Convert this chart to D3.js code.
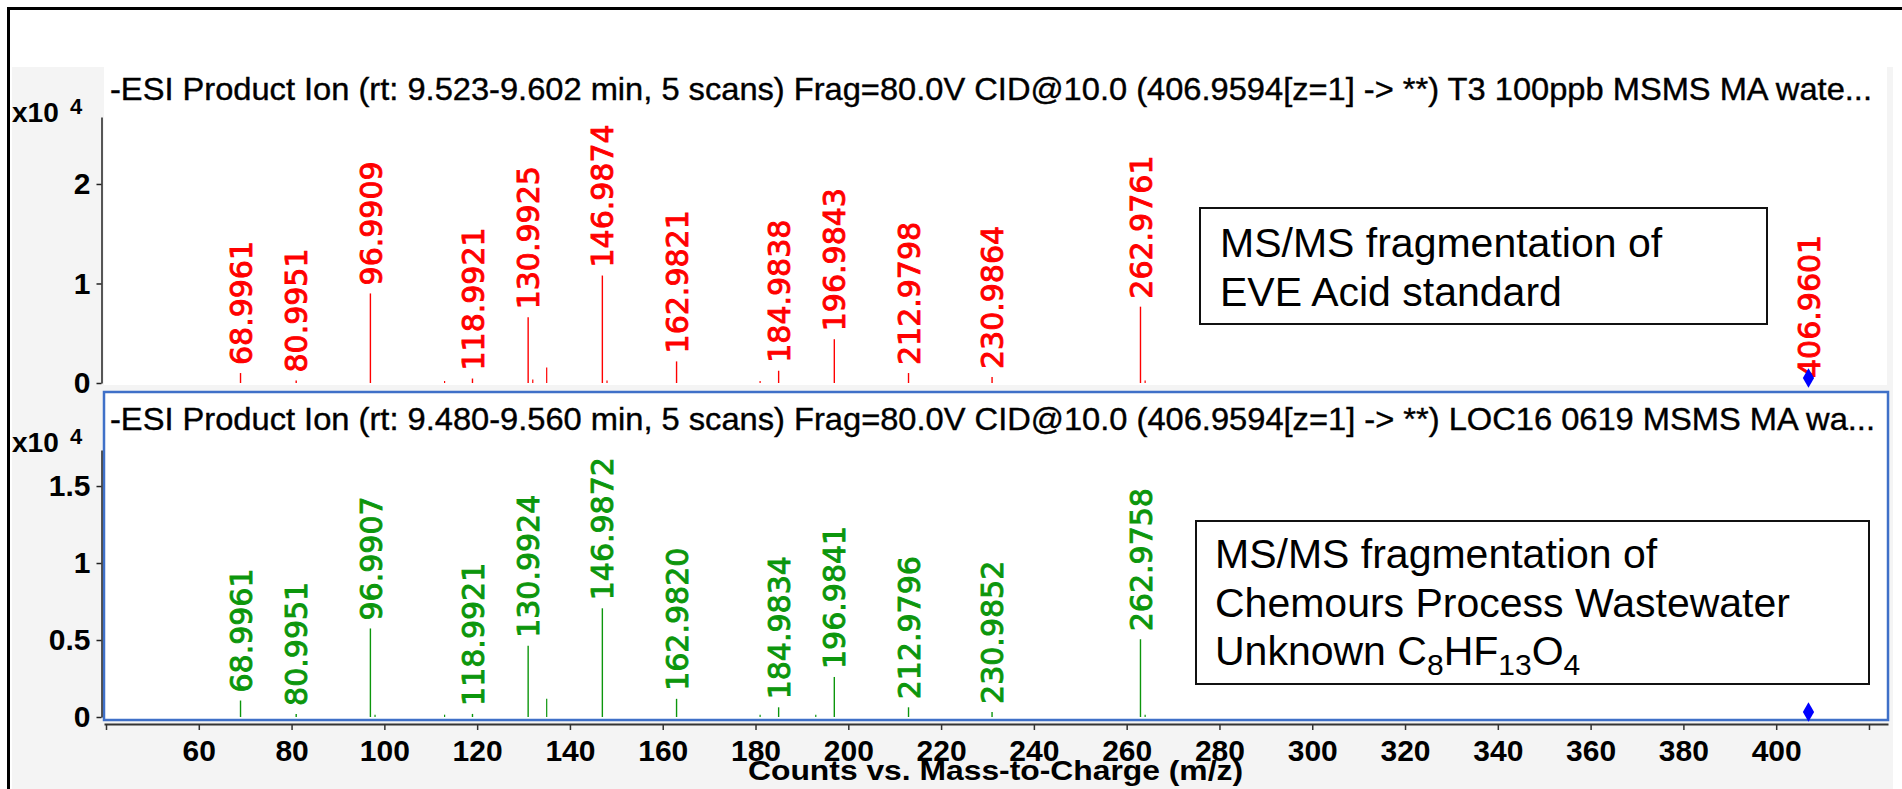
<!DOCTYPE html>
<html>
<head>
<meta charset="utf-8">
<script src="https://cdn.jsdelivr.net/npm/d3@7"></script>
<style>
	html, body { margin: 0; padding: 0; background: #fff; overflow: hidden; }
	svg { display: block; }
</style>
</head>
<body>
<script>
'use strict';

// x axis, m/z
var mzTicks = [40, 60, 80, 100, 120, 140, 160, 180, 200, 220, 240, 260, 280, 300, 320, 340, 360, 380, 400, 420];
var mzTickLabels = ['', '60', '80', '100', '120', '140', '160', '180', '200', '220', '240', '260', '280', '300', '320', '340', '360', '380', '400', ''];

// upper panel: EVE Acid standard (counts)
var stdTitle = '-ESI Product Ion (rt: 9.523-9.602 min, 5 scans) Frag=80.0V CID@10.0 (406.9594[z=1] -> **) T3 100ppb MSMS MA wate...';
var stdMz = [68.9961, 80.9951, 96.9909, 118.9921, 130.9925, 146.9874, 162.9821, 184.9838, 196.9843, 212.9798, 230.9864, 262.9761];
var stdCounts = [1000, 250, 9000, 450, 6600, 10800, 2170, 1230, 4400, 1000, 600, 7670];
var stdMinorMz = [112.98, 131.99, 134.99, 147.99, 180.99, 263.98];
var stdMinorCounts = [200, 350, 1550, 250, 200, 250];
var stdYTicks = [0, 10000, 20000];

// lower panel: process wastewater unknown (counts)
var unkTitle = '-ESI Product Ion (rt: 9.480-9.560 min, 5 scans) Frag=80.0V CID@10.0 (406.9594[z=1] -> **) LOC16 0619 MSMS MA wa...';
var unkMz = [68.9961, 80.9951, 96.9907, 118.9921, 130.9924, 146.9872, 162.9820, 184.9834, 196.9841, 212.9796, 230.9852, 262.9758];
var unkCounts = [1070, 200, 5750, 200, 4620, 7060, 1180, 630, 2600, 630, 330, 5050];
var unkMinorMz = [97.99, 112.98, 134.99, 180.99, 192.99, 263.98];
var unkMinorCounts = [150, 150, 1180, 150, 150, 150];
var unkYTicks = [0, 5000, 10000, 15000];

// precursor ion
var precursorMz = 406.9601;

var xLabel = 'Counts vs. Mass-to-Charge (m/z)';

var width = 1902, height = 789;
var labelFont = '"DejaVu Sans", Verdana, sans-serif';
var axisFont = '"Liberation Sans", Arial, sans-serif';
var fmt = d3.format('.4f');

var svg = d3.select('body').append('svg')
	.attr('width', width)
	.attr('height', height);

// frame and backgrounds
svg.append('rect')
	.attr('x', 8.5).attr('y', 8.5)
	.attr('width', 2000).attr('height', 2000)
	.attr('fill', '#fff')
	.attr('stroke', '#000')
	.attr('stroke-width', 3);
svg.append('rect')
	.attr('x', 12).attr('y', 67)
	.attr('width', 1881).attr('height', 800)
	.attr('fill', '#f4f4f4');
svg.append('rect')
	.attr('x', 104).attr('y', 67)
	.attr('width', 1783).attr('height', 318)
	.attr('fill', '#fff');
svg.append('rect')
	.attr('x', 104).attr('y', 392)
	.attr('width', 1784).attr('height', 328)
	.attr('fill', '#fff')
	.attr('stroke', '#3f70c8')
	.attr('stroke-width', 2.5);

var x = d3.scaleLinear().domain([39.57, 424.1]).range([104, 1888]);

function drawPanel(p) {
	var y = d3.scaleLinear().domain([0, p.yMax]).range([p.zero, p.top]);
	var g = svg.append('g');

	// y axis
	var yAxis = g.append('g')
		.attr('transform', 'translate(101.5,0)')
		.call(d3.axisLeft(y)
			.tickValues(p.yTicks)
			.tickSize(5)
			.tickSizeOuter(0)
			.tickPadding(6)
			.tickFormat(function (d) { return String(d / 10000); }));
	yAxis.select('.domain').attr('stroke', '#222').attr('stroke-width', 1.5);
	yAxis.selectAll('.tick line').attr('stroke', '#222').attr('stroke-width', 1.5);
	yAxis.selectAll('.tick text')
		.attr('font-family', axisFont)
		.attr('font-weight', 'bold')
		.attr('font-size', 30)
		.attr('fill', '#000');

	// x10^4 multiplier
	var mult = g.append('text')
		.attr('x', 12)
		.attr('y', p.multY)
		.attr('font-family', axisFont)
		.attr('font-weight', 'bold')
		.attr('font-size', 28)
		.attr('fill', '#000');
	mult.append('tspan').text('x10');
	mult.append('tspan')
		.attr('x', 70)
		.attr('dy', -8)
		.attr('font-size', 22)
		.text('4');

	// title
	g.append('text')
		.attr('x', 110)
		.attr('y', p.titleY)
		.attr('font-family', '"Liberation Sans Narrow", "Liberation Sans", Arial, sans-serif')
		.attr('font-size', 32)
		.attr('textLength', p.titleLen)
		.attr('lengthAdjust', 'spacingAndGlyphs')
		.attr('fill', '#000')
		.attr('stroke', '#000')
		.attr('stroke-width', 0.4)
		.text(p.title);

	// minor peaks
	g.selectAll('.minor')
		.data(p.minorMz)
		.enter()
		.append('line')
		.attr('class', 'minor')
		.attr('x1', function (d) { return x(d); })
		.attr('x2', function (d) { return x(d); })
		.attr('y1', y(0))
		.attr('y2', function (d, i) { return y(p.minorCounts[i]); })
		.attr('stroke', p.colour)
		.attr('stroke-width', 1.2);

	// labelled peaks
	var peaks = g.selectAll('.peak')
		.data(p.mz)
		.enter()
		.append('g')
		.attr('class', 'peak');
	peaks.append('line')
		.attr('x1', function (d) { return x(d); })
		.attr('x2', function (d) { return x(d); })
		.attr('y1', y(0))
		.attr('y2', function (d, i) { return y(p.counts[i]); })
		.attr('stroke', p.colour)
		.attr('stroke-width', 1.4);
	peaks.append('text')
		.attr('transform', function (d, i) {
			return 'translate(' + x(d) + ',' + (y(p.counts[i]) - 8) + ') rotate(-90)';
		})
		.attr('dy', '0.37em')
		.attr('font-family', labelFont)
		.attr('font-size', 30)
		.attr('fill', p.colour)
		.attr('stroke', p.colour)
		.attr('stroke-width', 0.9)
		.text(function (d) { return fmt(d); });

	// precursor marker
	if (p.precursorLabel) {
		g.append('text')
			.attr('transform', 'translate(' + x(precursorMz) + ',' + (y(0) - 5) + ') rotate(-90)')
			.attr('dy', '0.37em')
			.attr('font-family', labelFont)
			.attr('font-size', 30)
			.attr('fill', p.colour)
			.attr('stroke', p.colour)
			.attr('stroke-width', 0.9)
			.text(fmt(precursorMz));
	}
	g.append('path')
		.attr('d', d3.symbol().type(d3.symbolDiamond).size(110))
		.attr('transform', 'translate(' + x(precursorMz) + ',' + (y(0) - 5) + ')')
		.attr('fill', '#0000ff');

	// annotation box
	g.append('rect')
		.attr('x', p.box[0]).attr('y', p.box[1])
		.attr('width', p.box[2]).attr('height', p.box[3])
		.attr('fill', '#fff')
		.attr('stroke', '#111')
		.attr('stroke-width', 2);
	var note = g.append('text')
		.attr('font-family', axisFont)
		.attr('font-size', 41)
		.attr('fill', '#000');
	p.note.forEach(function (line, i) {
		var t = note.append('tspan')
			.attr('x', p.box[0] + p.notePad)
			.attr('y', p.noteY + i * 48.5);
		var shift = 0;
		line.forEach(function (part) {
			if (part.sub) {
				t.append('tspan').attr('dy', 10 - shift).attr('font-size', 30).text(part.sub);
				shift = 10;
			} else {
				t.append('tspan').attr('dy', -shift).text(part.t);
				shift = 0;
			}
		});
	});
}

drawPanel({
	title: stdTitle, titleY: 100, titleLen: 1762,
	mz: stdMz, counts: stdCounts, minorMz: stdMinorMz, minorCounts: stdMinorCounts,
	yTicks: stdYTicks, yMax: 26730, zero: 383, top: 117, multY: 122,
	colour: '#ff0000', precursorLabel: true,
	box: [1200, 208, 567, 116], notePad: 20, noteY: 257,
	note: [[{t: 'MS/MS fragmentation of'}], [{t: 'EVE Acid standard'}]]
});

drawPanel({
	title: unkTitle, titleY: 430, titleLen: 1765,
	mz: unkMz, counts: unkCounts, minorMz: unkMinorMz, minorCounts: unkMinorCounts,
	yTicks: unkYTicks, yMax: 17340, zero: 717, top: 450, multY: 452,
	colour: '#0c960c', precursorLabel: false,
	box: [1196, 521, 673, 163], notePad: 19, noteY: 568,
	note: [
		[{t: 'MS/MS fragmentation of'}],
		[{t: 'Chemours Process Wastewater'}],
		[{t: 'Unknown C'}, {sub: '8'}, {t: 'HF'}, {sub: '13'}, {t: 'O'}, {sub: '4'}]
	]
});

// shared x axis
var xAxis = svg.append('g')
	.attr('transform', 'translate(0,724)')
	.call(d3.axisBottom(x)
		.tickValues(mzTicks)
		.tickSize(6)
		.tickSizeOuter(0)
		.tickPadding(10)
		.tickFormat(function (d, i) { return mzTickLabels[i]; }));
xAxis.select('.domain').attr('stroke', '#333').attr('stroke-width', 2);
xAxis.selectAll('.tick line').attr('stroke', '#333').attr('stroke-width', 1.5);
xAxis.selectAll('.tick text')
	.attr('font-family', axisFont)
	.attr('font-weight', 'bold')
	.attr('font-size', 30)
	.attr('fill', '#000');

svg.append('text')
	.attr('x', 748)
	.attr('y', 780)
	.attr('font-family', axisFont)
	.attr('font-weight', 'bold')
	.attr('font-size', 28)
	.attr('textLength', 495)
	.attr('lengthAdjust', 'spacingAndGlyphs')
	.attr('fill', '#000')
	.text(xLabel);
</script>
</body>
</html>
